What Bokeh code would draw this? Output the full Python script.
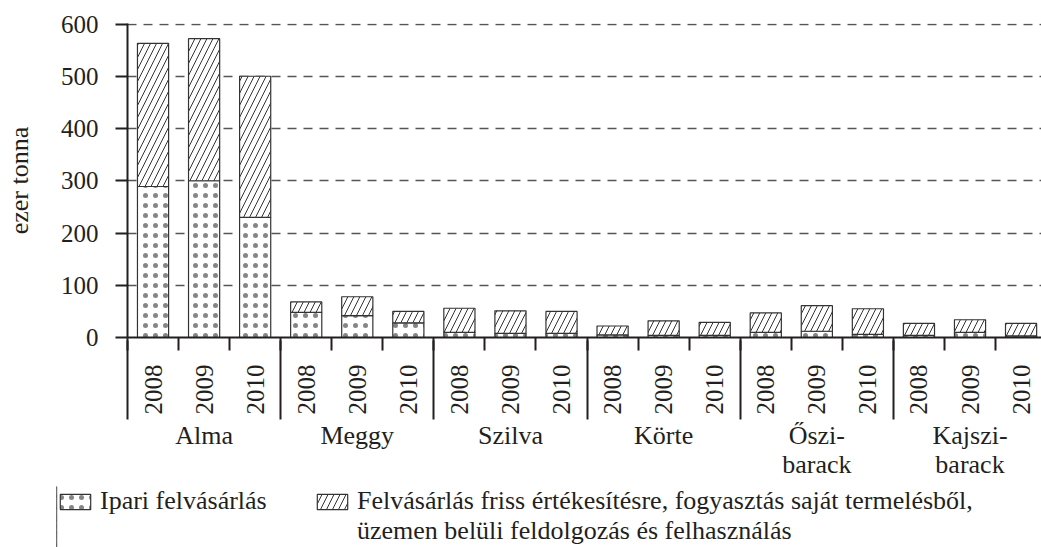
from math import pi
from bokeh.plotting import figure
from bokeh.models import (ColumnDataSource, FixedTicker, LinearAxis, Range1d,
                          Legend, LegendItem)
from bokeh.embed import file_html
from bokeh.resources import INLINE

# ---- data (ezer tonna) ----
fruits = ["Alma", "Meggy", "Szilva", "Körte", "Őszibarack", "Kajszibarack"]
fruit_labels = ["Alma", "Meggy", "Szilva", "Körte", "Őszi-\nbarack", "Kajszi-\nbarack"]
years = ["2008", "2009", "2010"]
ipari = [289, 300, 230, 48, 42, 28, 10, 8, 8, 5, 4, 4, 10, 12, 6, 4, 10, 3]
friss = [274, 272, 270, 20, 36, 22, 46, 43, 42, 17, 28, 25, 37, 49, 49, 23, 24, 24]
y_ticks = [0, 100, 200, 300, 400, 500, 600]
legend_labels = ["Ipari felvásárlás",
                 "Felvásárlás friss értékesítésre, fogyasztás saját termelésből,",
                 "üzemen belüli feldolgozás és felhasználás"]

FONT = "Liberation Serif"
TXT = "#231F20"
DOTS = dict(fill_color="white", line_color="#333333", line_width=1.2,
            hatch_pattern="dot", hatch_scale=10, hatch_weight=0.5,
            hatch_color="#333333", hatch_alpha=0.6)
HATCH = dict(fill_color="white", line_color="#333333", line_width=1.2,
             hatch_pattern="right_diagonal_line", hatch_scale=12,
             hatch_weight=1, hatch_color="#333333")

n = len(fruits) * len(years)
xs = [i + 0.5 for i in range(n)]
src = ColumnDataSource(dict(
    x=xs,
    ipari=ipari,
    total=[a + b for a, b in zip(ipari, friss)],
))

p = figure(width=1041, height=481,
           x_range=Range1d(0, 17.9), y_range=Range1d(0, 601),
           output_backend="svg", toolbar_location=None,
           min_border_left=127, min_border_right=0,
           min_border_top=23, min_border_bottom=144)
p.outline_line_color = None
p.xgrid.visible = False

# bars
r1 = p.vbar(x="x", bottom=0, top="ipari", width=0.61, source=src, **DOTS)
r2 = p.vbar(x="x", bottom="ipari", top="total", width=0.61, source=src, **HATCH)

# y axis
ya = p.yaxis[0]
ya.ticker = FixedTicker(ticks=y_ticks, minor_ticks=[])
ya.axis_line_width = 2
ya.axis_line_color = TXT
ya.major_tick_line_width = 2
ya.major_tick_line_color = TXT
ya.major_tick_out = 12
ya.major_tick_in = 0
ya.major_label_standoff = 17
ya.major_label_text_font = FONT
ya.major_label_text_font_size = "25px"
ya.major_label_text_color = TXT
ya.axis_label = "ezer tonna"
ya.axis_label_text_font = FONT
ya.axis_label_text_font_style = "normal"
ya.axis_label_text_font_size = "26px"
ya.axis_label_text_color = TXT
ya.axis_label_standoff = 24

p.ygrid.ticker = FixedTicker(ticks=y_ticks[1:])
p.ygrid.grid_line_color = "#555555"
p.ygrid.grid_line_width = 1.5
p.ygrid.grid_line_dash = "9 7"

# year axis
xa = p.xaxis[0]
xa.ticker = FixedTicker(ticks=xs, minor_ticks=list(range(n)))
xa.major_label_overrides = {x: years[i % 3] for i, x in enumerate(xs)}
xa.axis_line_width = 2
xa.axis_line_color = TXT
xa.major_tick_line_color = None
xa.major_tick_out = 0
xa.major_tick_in = 0
xa.minor_tick_line_width = 2
xa.minor_tick_line_color = TXT
xa.minor_tick_out = 13
xa.minor_tick_in = 0
xa.major_label_orientation = pi / 2
xa.major_label_standoff = 14
xa.major_label_text_font = FONT
xa.major_label_text_font_size = "25px"
xa.major_label_text_color = TXT

# category axis
centers = [3 * k + 1.5 for k in range(len(fruits))]
ca = LinearAxis(ticker=FixedTicker(ticks=centers, minor_ticks=[3 * k for k in range(len(fruits))]))
ca.major_label_overrides = {c: fruit_labels[k] for k, c in enumerate(centers)}
ca.axis_line_color = None
ca.major_tick_line_color = None
ca.major_tick_out = 0
ca.major_tick_in = 0
ca.minor_tick_line_width = 2
ca.minor_tick_line_color = TXT
ca.minor_tick_in = 77
ca.minor_tick_out = 2
ca.major_label_standoff = 1
ca.major_label_text_font = FONT
ca.major_label_text_font_size = "26px"
ca.major_label_text_color = TXT
ca.major_label_text_line_height = 1.0
p.add_layout(ca, "below")

# legend strip under the chart (separate root, so no frame alignment)
lg = figure(width=1041, height=66, x_range=Range1d(0, 1), y_range=Range1d(0, 1),
            output_backend="svg", toolbar_location=None,
            x_axis_location=None, y_axis_location=None,
            min_border_left=56, min_border_top=5, min_border_right=0,
            min_border_bottom=0)
lg.outline_line_color = None
lg.grid.visible = False
d1 = lg.vbar(x=[-10], top=[1], width=0.5, **DOTS)
d2 = lg.vbar(x=[-10], top=[1], width=0.5, **HATCH)
d0 = lg.vbar(x=[-10], top=[1], width=0.5, fill_alpha=0, line_alpha=0)
legend = Legend(items=[LegendItem(label=legend_labels[0], renderers=[d1]),
                       LegendItem(label=legend_labels[1], renderers=[d2]),
                       LegendItem(label=" ", renderers=[d0]),
                       LegendItem(label=legend_labels[2], renderers=[d0])],
                orientation="horizontal", ncols=2, location="top_left",
                glyph_width=38, glyph_height=19, label_standoff=6, spacing=0,
                label_width=213,
                label_text_font=FONT, label_text_font_size="26px",
                label_text_color=TXT,
                border_line_color=None, background_fill_alpha=0,
                padding=0, margin=0)
lg.add_layout(legend)

open("out.html", "w").write(file_html([p, lg], INLINE))
